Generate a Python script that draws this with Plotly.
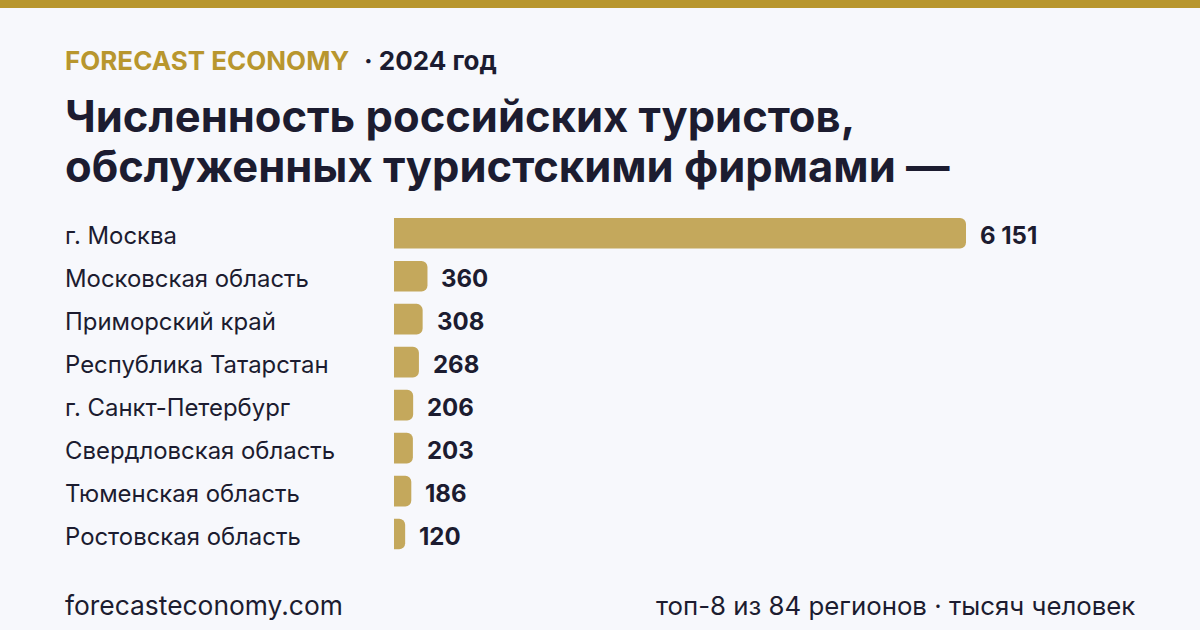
import plotly.graph_objects as go

regions = ["г. Москва", "Московская область", "Приморский край", "Республика Татарстан",
           "г. Санкт-Петербург", "Свердловская область", "Тюменская область", "Ростовская область"]
values = [6151, 360, 308, 268, 206, 203, 186, 120]
value_labels = ["6 151", "360", "308", "268", "206", "203", "186", "120"]

W, H = 1200, 630
BG = "#f7f8fc"
GOLD = "#b8962e"
BAR = "#c4a85c"
DARK = "#1c1c30"
FONT = "Inter"

x0_px, x_end_px = 394, 966
xmax = values[0] * (W - x0_px) / (x_end_px - x0_px)
LX = 63 / W

fig = go.Figure(go.Bar(
    x=values, y=regions, orientation="h",
    marker=dict(color=BAR, line=dict(width=0)),
    width=0.714, hoverinfo="skip",
))

top_px, bot_px = 211.8, 555.5
fig.update_layout(
    width=W, height=H, margin=dict(l=0, r=0, t=0, b=0),
    paper_bgcolor=BG, plot_bgcolor=BG, showlegend=False,
    barcornerradius=6,
    xaxis=dict(domain=[x0_px / W, 1], range=[0, xmax], visible=False, fixedrange=True),
    yaxis=dict(domain=[1 - bot_px / H, 1 - top_px / H], range=[7.5, -0.5],
               visible=False, type="category", categoryorder="array", categoryarray=regions),
    font=dict(family=FONT, color=DARK),
)

ann = []
for r, v, lab in zip(regions, values, value_labels):
    ann.append(dict(x=v, y=r, xref="x", yref="y", text=f"<b>{lab}</b>", showarrow=False,
                    xanchor="left", yanchor="middle", xshift=12, yshift=-2,
                    font=dict(family=FONT, size=24, color=DARK)))
    ann.append(dict(x=LX, y=r, xref="paper", yref="y", text=r, showarrow=False,
                    xanchor="left", yanchor="middle", yshift=-2,
                    font=dict(family=FONT, size=23.9, color=DARK)))

ann.append(dict(x=LX, y=1 - 60 / H, xref="paper", yref="paper",
                text=f"<b><span style='color:{GOLD}'>FORECAST ECONOMY</span></b>  <b>· 2024 год</b>",
                showarrow=False, xanchor="left", yanchor="middle",
                font=dict(family=FONT, size=26, color=DARK)))
for txt, yc in [("Численность российских туристов,", 116),
                ("обслуженных туристскими фирмами —", 166)]:
    ann.append(dict(x=LX, y=1 - yc / H, xref="paper", yref="paper",
                    text=f"<b>{txt}</b>", showarrow=False, xanchor="left", yanchor="middle",
                    font=dict(family=FONT, size=43.5, color=DARK)))
ann.append(dict(x=LX, y=1 - 605 / H, xref="paper", yref="paper",
                text="forecasteconomy.com", showarrow=False, xanchor="left", yanchor="middle",
                font=dict(family=FONT, size=26.4, color=DARK)))
ann.append(dict(x=1137 / W, y=1 - 605 / H, xref="paper", yref="paper",
                text="топ-8 из 84 регионов · тысяч человек", showarrow=False,
                xanchor="right", yanchor="middle",
                font=dict(family=FONT, size=25.8, color=DARK)))
fig.update_layout(annotations=ann)

fig.add_shape(type="rect", xref="paper", yref="paper", x0=0, x1=1, y0=1 - 8 / H, y1=1,
              fillcolor=GOLD, line=dict(width=0), layer="above")

fig.write_html("out.html")
